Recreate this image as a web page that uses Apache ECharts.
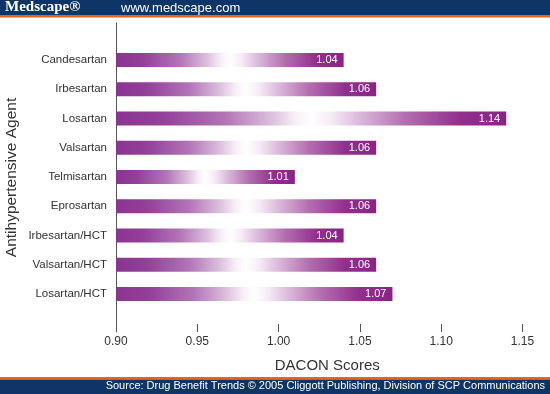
<!DOCTYPE html>
<html><head><meta charset="utf-8">
<script src="https://cdn.jsdelivr.net/npm/echarts@6/dist/echarts.min.js"></script>
<style>html,body{margin:0;padding:0;background:#fff}#c{width:550px;height:394px}</style>
</head><body><div id="c"></div>
<script>
const categories = ['Candesartan','Irbesartan','Losartan','Valsartan','Telmisartan','Eprosartan','Irbesartan/HCT','Valsartan/HCT','Losartan/HCT'];
const scores = [1.04, 1.06, 1.14, 1.06, 1.01, 1.06, 1.04, 1.06, 1.07];
const xTicks = [0.90, 0.95, 1.00, 1.05, 1.10, 1.15];

const chart = echarts.init(document.getElementById('c'), null, {renderer:'canvas'});
const barGrad = new echarts.graphic.LinearGradient(0,0,1,0,[
  {offset:0, color:'#8a3590'},
  {offset:0.12, color:'#93409a'},
  {offset:0.28, color:'#b274b6'},
  {offset:0.4, color:'#dcc0de'},
  {offset:0.46, color:'#f8eff8'},
  {offset:0.5, color:'#ffffff'},
  {offset:0.55, color:'#f6ecf6'},
  {offset:0.62, color:'#dcbcdc'},
  {offset:0.74, color:'#b46fb0'},
  {offset:0.88, color:'#91308c'},
  {offset:1, color:'#8a2483'}
]);
const fmt = v => v.toFixed(2);
chart.setOption({
  backgroundColor:'#ffffff',
  animation:false,
  grid:[
    {left:116, right:27.5, top:45.4, bottom:85.4, containLabel:false, outerBoundsMode:'none'},
    {left:116, right:27.5, top:23, bottom:62, containLabel:false, outerBoundsMode:'none'}
  ],
  xAxis:[
    {gridIndex:0, type:'value', min:0.9, max:1.15, interval:0.05, show:false},
    {gridIndex:1, type:'value', min:0.9, max:1.15, interval:0.05,
     axisLine:{show:false}, splitLine:{show:false},
     axisTick:{show:true, inside:true, length:8, lineStyle:{color:'#555'}},
     axisLabel:{color:'#333', fontSize:12, fontFamily:'Liberation Sans, Arial', margin:4, formatter:fmt},
     name:'DACON Scores', nameLocation:'middle', nameGap:26,
     nameTextStyle:{color:'#333', fontSize:15, fontFamily:'Liberation Sans, Arial', padding:[0,0,0,16]}}
  ],
  yAxis:[
    {gridIndex:0, type:'category', data:categories, inverse:true,
     axisLine:{show:false}, axisTick:{show:false},
     axisLabel:{color:'#333', fontSize:11.5, fontFamily:'Liberation Sans, Arial', margin:9}},
    {gridIndex:1, type:'value', min:0, max:1,
     axisLine:{show:true, lineStyle:{color:'#555', width:1}}, axisTick:{show:false},
     axisLabel:{show:false}, splitLine:{show:false},
     name:'Antihypertensive Agent', nameLocation:'middle', nameGap:96, nameRotate:90,
     nameTextStyle:{color:'#333', fontSize:15.5, fontFamily:'Liberation Sans, Arial'}}
  ],
  series:[{
    type:'bar', xAxisIndex:0, yAxisIndex:0, data:scores, barWidth:14,
    itemStyle:{color:barGrad},
    label:{show:true, position:'insideRight', color:'#fff', fontSize:11, fontFamily:'Liberation Sans, Arial', offset:[-1,0], formatter:p=>fmt(p.value)}
  }],
  graphic:[
    {type:'rect', shape:{x:0,y:0,width:550,height:16}, style:{fill:'#0f3466'}, z:10},
    {type:'rect', shape:{x:0,y:15,width:550,height:2.5}, style:{fill:'#e8641a'}, z:10},
    {type:'text', x:5, y:0, style:{text:'Medscape\u00AE', fill:'#fff', font:'bold 15px "Liberation Serif", serif'}, z:11},
    {type:'text', x:121, y:2, style:{text:'www.medscape.com', fill:'#fff', font:'13px "Liberation Sans", Arial'}, z:11},
    {type:'rect', shape:{x:0,y:377,width:550,height:2.5}, style:{fill:'#e8641a'}, z:10},
    {type:'rect', shape:{x:0,y:379.5,width:550,height:14.5}, style:{fill:'#0f3466'}, z:10},
    {type:'text', right:5, y:380, style:{text:'Source: Drug Benefit Trends \u00A9 2005 Cliggott Publishing, Division of SCP Communications', fill:'#fff', font:'11px "Liberation Sans", Arial'}, z:11}
  ]
});
</script></body></html>
